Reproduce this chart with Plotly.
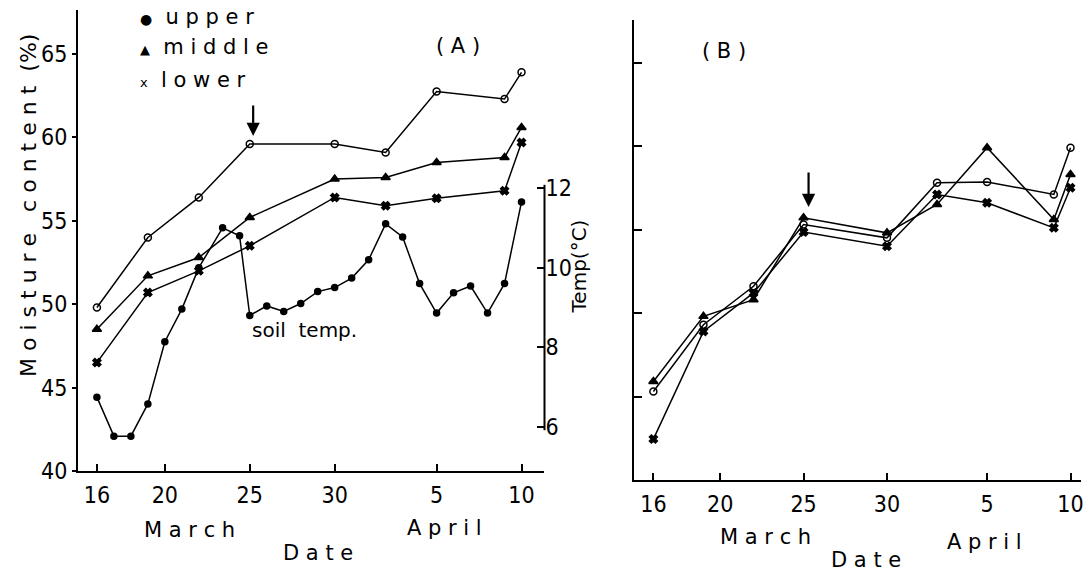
import plotly.graph_objects as go

# reference image size; the rendered page is captured slightly scaled, so the
# figure is sized a little larger and everything is placed in paper fractions
W, H = 1084, 571
FIG_W, FIG_H = 1086, 584

# ---------------- data (day index: 0 = 16 March, 25 = 10 April) ----------------
days = [0, 3, 6, 9, 14, 17, 20, 24, 25]
tick_days = [0, 4, 9, 14, 20, 25]
tick_text = ["16", "20", "25", "30", "5", "10"]

A_upper = [49.8, 54.0, 56.4, 59.6, 59.6, 59.1, 62.75, 62.3, 63.9]
A_middle = [48.5, 51.7, 52.8, 55.2, 57.5, 57.6, 58.5, 58.8, 60.6]
A_lower = [46.5, 50.7, 52.0, 53.5, 56.4, 55.9, 56.35, 56.8, 59.7]

temp_days = [0, 1, 2, 3, 4, 5, 6, 7.4, 8.4, 9, 10, 11, 12, 13, 14, 15, 16, 17,
             18, 19, 20, 21, 22, 23, 24, 25]
soil_temp = [6.75, 5.77, 5.77, 6.58, 8.14, 8.96, 10.0, 11.0, 10.8, 8.8, 9.04, 8.9,
             9.1, 9.4, 9.5, 9.74, 10.2, 11.1, 10.77, 9.6, 8.86, 9.37, 9.54, 8.86,
             9.6, 11.65]

B_upper = [45.3, 49.3, 51.6, 55.3, 54.5, 57.8, 57.85, 57.1, 59.9]
B_middle = [45.9, 49.8, 50.8, 55.7, 54.8, 56.5, 59.9, 55.6, 58.3]
B_lower = [42.45, 48.9, 51.2, 54.85, 54.0, 57.1, 56.6, 55.1, 57.5]

moist_ticks = [40, 45, 50, 55, 60, 65]
temp_ticks = [6, 8, 10, 12]


def px(x):
    return x / W


def py(y):
    return 1 - y / H


FONT = "DejaVu Sans"
NUMFONT = "Liberation Sans Narrow, DejaVu Sans Condensed, Liberation Sans"

fig = go.Figure()


def add(x, y, symbol, size, xa, ya, lw=1.5):
    fig.add_trace(go.Scatter(
        x=x, y=y, xaxis=xa, yaxis=ya, mode="lines+markers",
        line=dict(color="black", width=lw),
        marker=dict(symbol=symbol, size=size, color="black",
                    line=dict(color="black", width=1.5)),
        showlegend=False, hoverinfo="skip"))


# Panel A
add(days, A_upper, "circle-open", 7, "x", "y")
add(days, A_middle, "triangle-up", 8, "x", "y")
add(days, A_lower, "x", 7, "x", "y")
add(temp_days, soil_temp, "circle", 6, "x", "y2")
# Panel B
add(days, B_upper, "circle-open", 7, "x2", "y3")
add(days, B_middle, "triangle-up", 8, "x2", "y3")
add(days, B_lower, "x", 7, "x2", "y3")

axis_common = dict(showgrid=False, zeroline=False, color="black",
                   linecolor="black", tickcolor="black",
                   tickfont=dict(size=23, family=NUMFONT, color="black"))

# pixel calibration (reference image pixels)
A_x0, A_x1 = 78, 545
A_d0_px, A_px_day = 97, 17.0
A_y_bot, A_y_top = 471, 10
A_px_unit = 16.68
T_px_unit = 39.83
T6_px = 427

B_x0, B_x1 = 635, 1082
B_d0_px, B_px_day = 654, 16.7
B_y_bot, B_y_top = 480, 20
B_px_unit = 16.7

fig.update_layout(
    width=FIG_W, height=FIG_H,
    margin=dict(l=0, r=0, t=0, b=0),
    paper_bgcolor="white", plot_bgcolor="white",
    font=dict(family=FONT, color="black", size=20),
    xaxis=dict(domain=[px(A_x0), px(A_x1)],
               range=[(A_x0 - A_d0_px) / A_px_day, (A_x1 - A_d0_px) / A_px_day],
               tickvals=tick_days, ticktext=tick_text, anchor="y",
               showline=True, linewidth=2, ticks="inside", ticklen=7, tickwidth=2,
               ticklabelstandoff=2, ticklabeloverflow="allow",
               **axis_common),
    yaxis=dict(domain=[py(A_y_bot), py(A_y_top)],
               range=[40, 40 + (A_y_bot - A_y_top) / A_px_unit],
               tickvals=moist_ticks, anchor="x",
               showline=True, linewidth=2, ticks="outside", ticklen=4, tickwidth=2,
               **axis_common),
    yaxis2=dict(overlaying="y", anchor="free", position=px(A_x1), side="right",
                range=[6 - (A_y_bot - T6_px) / T_px_unit,
                       6 + (T6_px - A_y_top) / T_px_unit],
                tickvals=temp_ticks, showline=False,
                ticks="inside", ticklen=7, tickwidth=2,
                **axis_common),
    xaxis2=dict(domain=[px(B_x0), px(B_x1)],
                range=[(B_x0 - B_d0_px) / B_px_day, (B_x1 - B_d0_px) / B_px_day],
                tickvals=tick_days, ticktext=tick_text, anchor="y3",
                showline=True, linewidth=2, ticks="inside", ticklen=7, tickwidth=2,
                ticklabelstandoff=2, ticklabeloverflow="allow",
                **axis_common),
    yaxis3=dict(domain=[py(B_y_bot), py(B_y_top)],
                range=[40, 40 + (B_y_bot - B_y_top) / B_px_unit],
                tickvals=moist_ticks[1:], showticklabels=False, anchor="x2",
                showline=True, linewidth=2, ticks="inside", ticklen=8, tickwidth=2,
                **axis_common),
)

# temperature axis line (only the 6-12 segment)
fig.add_shape(type="line", xref="paper", yref="y2",
              x0=px(A_x1), x1=px(A_x1), y0=5.92, y1=12.08,
              line=dict(color="black", width=2))

ann = []


def text(x, y, t, size=20, angle=0, xanchor="center"):
    ann.append(dict(x=px(x), y=py(y), xref="paper", yref="paper", text=t,
                    showarrow=False, textangle=angle, xanchor=xanchor,
                    yanchor="middle", font=dict(size=size, family=FONT, color="black")))


# legend of panel A
text(138, 17, "<span style='font-size:14px'>●</span>  u p p e r", 21, xanchor="left")
text(138, 47, "<span style='font-size:13px'>▲</span>  m i d d l e", 21, xanchor="left")
text(138, 80, "<span style='font-size:13px'>x</span>  l o w e r", 21, xanchor="left")

text(458, 46, "( A )", 21)
text(725, 51, "( B )", 21)
text(250, 330, "soil  temp.", 20, xanchor="left")

# axis titles
text(28, 205, "M o i s t u r e   c o n t e n t  (%)", 22, angle=-90)
text(580, 266, "Temp(°C)", 20, angle=-90)

text(190, 530, "M a r c h", 21)
text(445, 528, "A p r i l", 21)
text(318, 553, "D a t e", 21)
text(766, 537, "M a r c h", 21)
text(985, 542, "A p r i l", 21)
text(867, 560, "D a t e", 21)

# arrows
ann.append(dict(x=9.2, y=40 + (A_y_bot - 136) / A_px_unit, xref="x", yref="y",
                ax=0, ay=-32, showarrow=True, arrowhead=2, arrowsize=1.2,
                arrowwidth=2.2, arrowcolor="black", text=""))
ann.append(dict(x=9.3, y=40 + (B_y_bot - 207) / B_px_unit, xref="x2", yref="y3",
                ax=0, ay=-36, showarrow=True, arrowhead=2, arrowsize=1.2,
                arrowwidth=2.2, arrowcolor="black", text=""))

fig.update_layout(annotations=ann)

fig.write_html(
    "out.html",
    config={"displayModeBar": False},
    post_script=(
        "document.documentElement.style.overflow='hidden';"
        "document.body.style.margin='0';document.body.style.padding='0';"
        "document.body.style.overflow='hidden';"
        "var d=document.getElementById('{plot_id}');"
        "d.style.position='fixed';d.style.top='0px';d.style.left='0px';"
    ),
)
